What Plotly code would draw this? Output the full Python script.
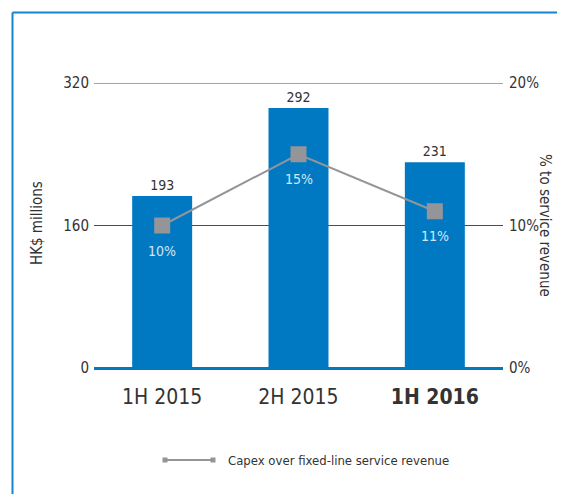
import plotly.graph_objs as go

# data
periods = ['1H 2015', '2H 2015', '1H 2016']
period_labels = ['1H 2015', '2H 2015', '<b>1H 2016</b>']
capex = [193, 292, 231]
capex_ratio = [0.10, 0.15, 0.11]
ratio_labels = ['10%', '15%', '11%']
capex_ticks = [0, 160, 320]
ratio_ticks = [0, 0.1, 0.2]
legend_name = 'Capex over fixed-line service revenue'

BLUE = '#0079c2'
GREY = '#939598'
TEXT = '#333333'
FONT = 'DejaVu Sans Condensed, Liberation Sans Narrow, sans-serif'

# the page body adds an 8px margin, so the figure is shrunk to fit the window
OFF = 8
W, H = 566 - 2 * OFF, 502 - 2 * OFF
L, R, T, B = 94 - OFF, 566 - OFF - 503, 83 - OFF, 502 - OFF - 368


def px(x):
    """page pixel x -> paper x"""
    return (x - OFF - L) / (W - L - R)


def py(y):
    """page pixel y -> paper y"""
    return (H - B - (y - OFF)) / (H - T - B)


fig = go.Figure()
fig.add_trace(go.Bar(x=periods, y=capex, marker={'color': BLUE, 'line': {'width': 0}},
                     width=0.44, text=[str(v) for v in capex], textposition='outside',
                     textfont={'size': 14, 'color': TEXT, 'family': FONT},
                     cliponaxis=False, showlegend=False, yaxis='y'))
fig.add_trace(go.Scatter(x=periods, y=capex_ratio, mode='lines+markers',
                         line={'color': GREY, 'width': 2},
                         marker={'symbol': 'square', 'size': 16, 'color': GREY},
                         name=legend_name, showlegend=False, yaxis='y2', cliponaxis=False))

# percent labels under the markers
for p, v, t in zip(periods, capex_ratio, ratio_labels):
    fig.add_annotation(x=p, y=v, xref='x', yref='y2', text=t, showarrow=False, yshift=-25,
                       font={'size': 14, 'color': '#d4e5f5', 'family': FONT})

# top gridline (plotly skips the one on the range edge)
fig.add_shape(type='line', xref='paper', yref='y', x0=0, x1=1, y0=capex_ticks[-1], y1=capex_ticks[-1],
              line={'color': '#4d4d4d', 'width': 1}, layer='below')

# axis titles
fig.add_annotation(x=px(26), y=py(223), xref='paper', yref='paper', text='HK$ millions',
                   textangle=-90, showarrow=False, font={'size': 15, 'color': TEXT, 'family': FONT})
fig.add_annotation(x=px(556), y=py(225), xref='paper', yref='paper', text='% to service revenue',
                   textangle=90, showarrow=False, font={'size': 15, 'color': TEXT, 'family': FONT})

# hand-made legend
ly = py(460)
fig.add_shape(type='line', xref='paper', yref='paper', x0=px(165), x1=px(213), y0=ly, y1=ly,
              line={'color': GREY, 'width': 2})
for cx in (165, 213):
    fig.add_shape(type='rect', xref='paper', yref='paper', x0=px(cx - 2.5), x1=px(cx + 2.5),
                  y0=py(462.5), y1=py(457.5), fillcolor=GREY, line={'width': 0})
fig.add_annotation(x=px(226), y=ly, xref='paper', yref='paper', text=legend_name,
                   xanchor='left', yanchor='middle', showarrow=False,
                   font={'size': 13, 'color': TEXT, 'family': FONT})

# frame (left and top edges), kept inside the svg
fig.add_shape(type='line', xref='paper', yref='paper', x0=px(12.5), x1=px(12.5), y0=py(502), y1=py(12.5),
              line={'color': '#1485d0', 'width': 2})
fig.add_shape(type='line', xref='paper', yref='paper', x0=px(12.5), x1=px(557), y0=py(12.5), y1=py(12.5),
              line={'color': '#1485d0', 'width': 2})

fig.update_layout(width=W, height=H, margin={'l': L, 'r': R, 't': T, 'b': B},
                  plot_bgcolor='white', paper_bgcolor='white', showlegend=False,
                  font={'family': FONT, 'color': TEXT},
                  xaxis={'tickvals': periods, 'ticktext': period_labels, 'showgrid': False,
                         'showline': False, 'ticks': '', 'tickfont': {'size': 21, 'color': TEXT},
                         'ticklabelstandoff': 14},
                  yaxis={'range': [capex_ticks[0], capex_ticks[-1]], 'tickvals': capex_ticks,
                         'showgrid': True, 'gridcolor': '#4d4d4d', 'gridwidth': 1, 'zeroline': True,
                         'zerolinecolor': BLUE, 'zerolinewidth': 3, 'ticks': '',
                         'tickfont': {'size': 15, 'color': TEXT}, 'ticklabelstandoff': 4},
                  yaxis2={'range': [ratio_ticks[0], ratio_ticks[-1]], 'tickvals': ratio_ticks,
                          'tickformat': '.0%', 'overlaying': 'y', 'side': 'right', 'showgrid': False,
                          'zeroline': False, 'ticks': '', 'tickfont': {'size': 15, 'color': TEXT},
                          'ticklabelstandoff': 5})

fig.write_html('out.html')
